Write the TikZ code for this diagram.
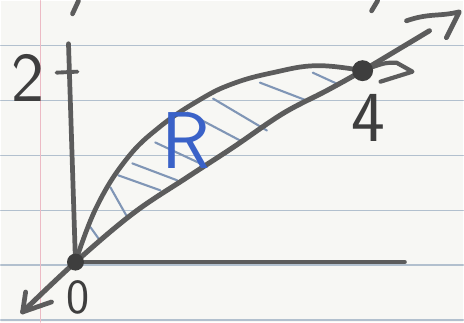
\documentclass[tikz,border=0pt]{standalone}
\usepackage{fontspec}
\definecolor{paper}{RGB}{247, 247, 244}
\definecolor{ruleblue}{RGB}{178, 192, 206}
\definecolor{marginpink}{RGB}{236, 186, 196}
\definecolor{pencil}{RGB}{92, 92, 92}
\definecolor{dotgray}{RGB}{62, 62, 62}
\definecolor{penblue}{RGB}{58, 98, 200}
\definecolor{hatchblue}{RGB}{128, 150, 182}
\usetikzlibrary{positioning}

\begin{document}
\begin{tikzpicture}[x=0.02cm, y=-0.02cm, line cap=round, line join=round]
  % notebook paper
  \fill[paper] (0,0) rectangle (464,322);
  \foreach \ry in {45,100,155,210,265,320}
    \draw[ruleblue, line width=0.8pt] (0,\ry) -- (464,\ry);
  \draw[marginpink, line width=1pt] (40,0) -- (40,322);
  \useasboundingbox (0,0) rectangle (464,322);

  % points of the sketch
  \coordinate (O) at (75,262);
  \coordinate (P) at (363,70);
  \coordinate (ytop) at (68,43);
  \coordinate (xstart) at (81,262);
  \coordinate (xend) at (405,262);
  \coordinate (lowtip) at (22,312);
  \coordinate (uptip) at (430,30);

  % hatching of R
  \foreach \xa/\ya/\xb/\yb in {90/227/100/241, 110/187/127/217, 118/175/160/190, 132/163/177/180,
      155/142/200/163, 187/112/240/140, 213/98/267/130, 260/82/307/100, 313/72/337/83}
    \draw[hatchblue, line width=1.2pt] (\xa,\ya) -- (\xb,\yb);

  % axes
  \draw[pencil, line width=2.7pt] (O) -- (ytop);
  \draw[pencil, line width=2.7pt] (xstart) -- (xend);
  \draw[pencil, line width=2.2pt] (56,72) -- (77,71);

  % upper curve
  \draw[pencil, line width=2.7pt] plot[smooth, tension=0.7] coordinates {(O) (96,207) (126,159)
      (160,126) (200,99) (233,83) (273,72) (317,65) (P)};
  \draw[pencil, line width=2.4pt] (P) .. controls (385,62) .. (397,62) -- (413,71) -- (381,81);

  % lower line
  \draw[pencil, line width=2.9pt] plot[smooth, tension=0.6] coordinates {(lowtip) (O) (133,213)
      (187,177) (233,147) (283,113) (327,90) (P) (400,48) (uptip)};
  \draw[pencil, line width=2.7pt] (25,292) -- (lowtip) -- (51,302);
  \draw[pencil, line width=2.7pt] (407,20) .. controls (430,12) and (440,16) .. (460,11) -- (447,37);

  % cut-off strokes at the top
  \draw[pencil, line width=2.7pt] (72,13) -- (78,0);
  \draw[pencil, line width=2.7pt] (372,10) -- (378,0);

  % dots
  \fill[dotgray] (O) circle (8.5);
  \fill[dotgray] (P) circle (10.5);

  % labels
  \node[text=dotgray, inner sep=0pt, font=\sffamily\fontsize{40}{40}\selectfont] (two) at (27,77) {2};
  \node[text=dotgray, inner sep=0pt, font=\sffamily\fontsize{41}{41}\selectfont] (four) at (369,117) {4};
  \node[text=dotgray, inner sep=0pt, font=\sffamily\fontsize{28}{28}\selectfont] (zero) at (78,297) {0};
  \node[text=penblue, inner sep=0pt, font=\sffamily\fontsize{46}{46}\selectfont] (R) at (186,140) {R};
\end{tikzpicture}
\end{document}
